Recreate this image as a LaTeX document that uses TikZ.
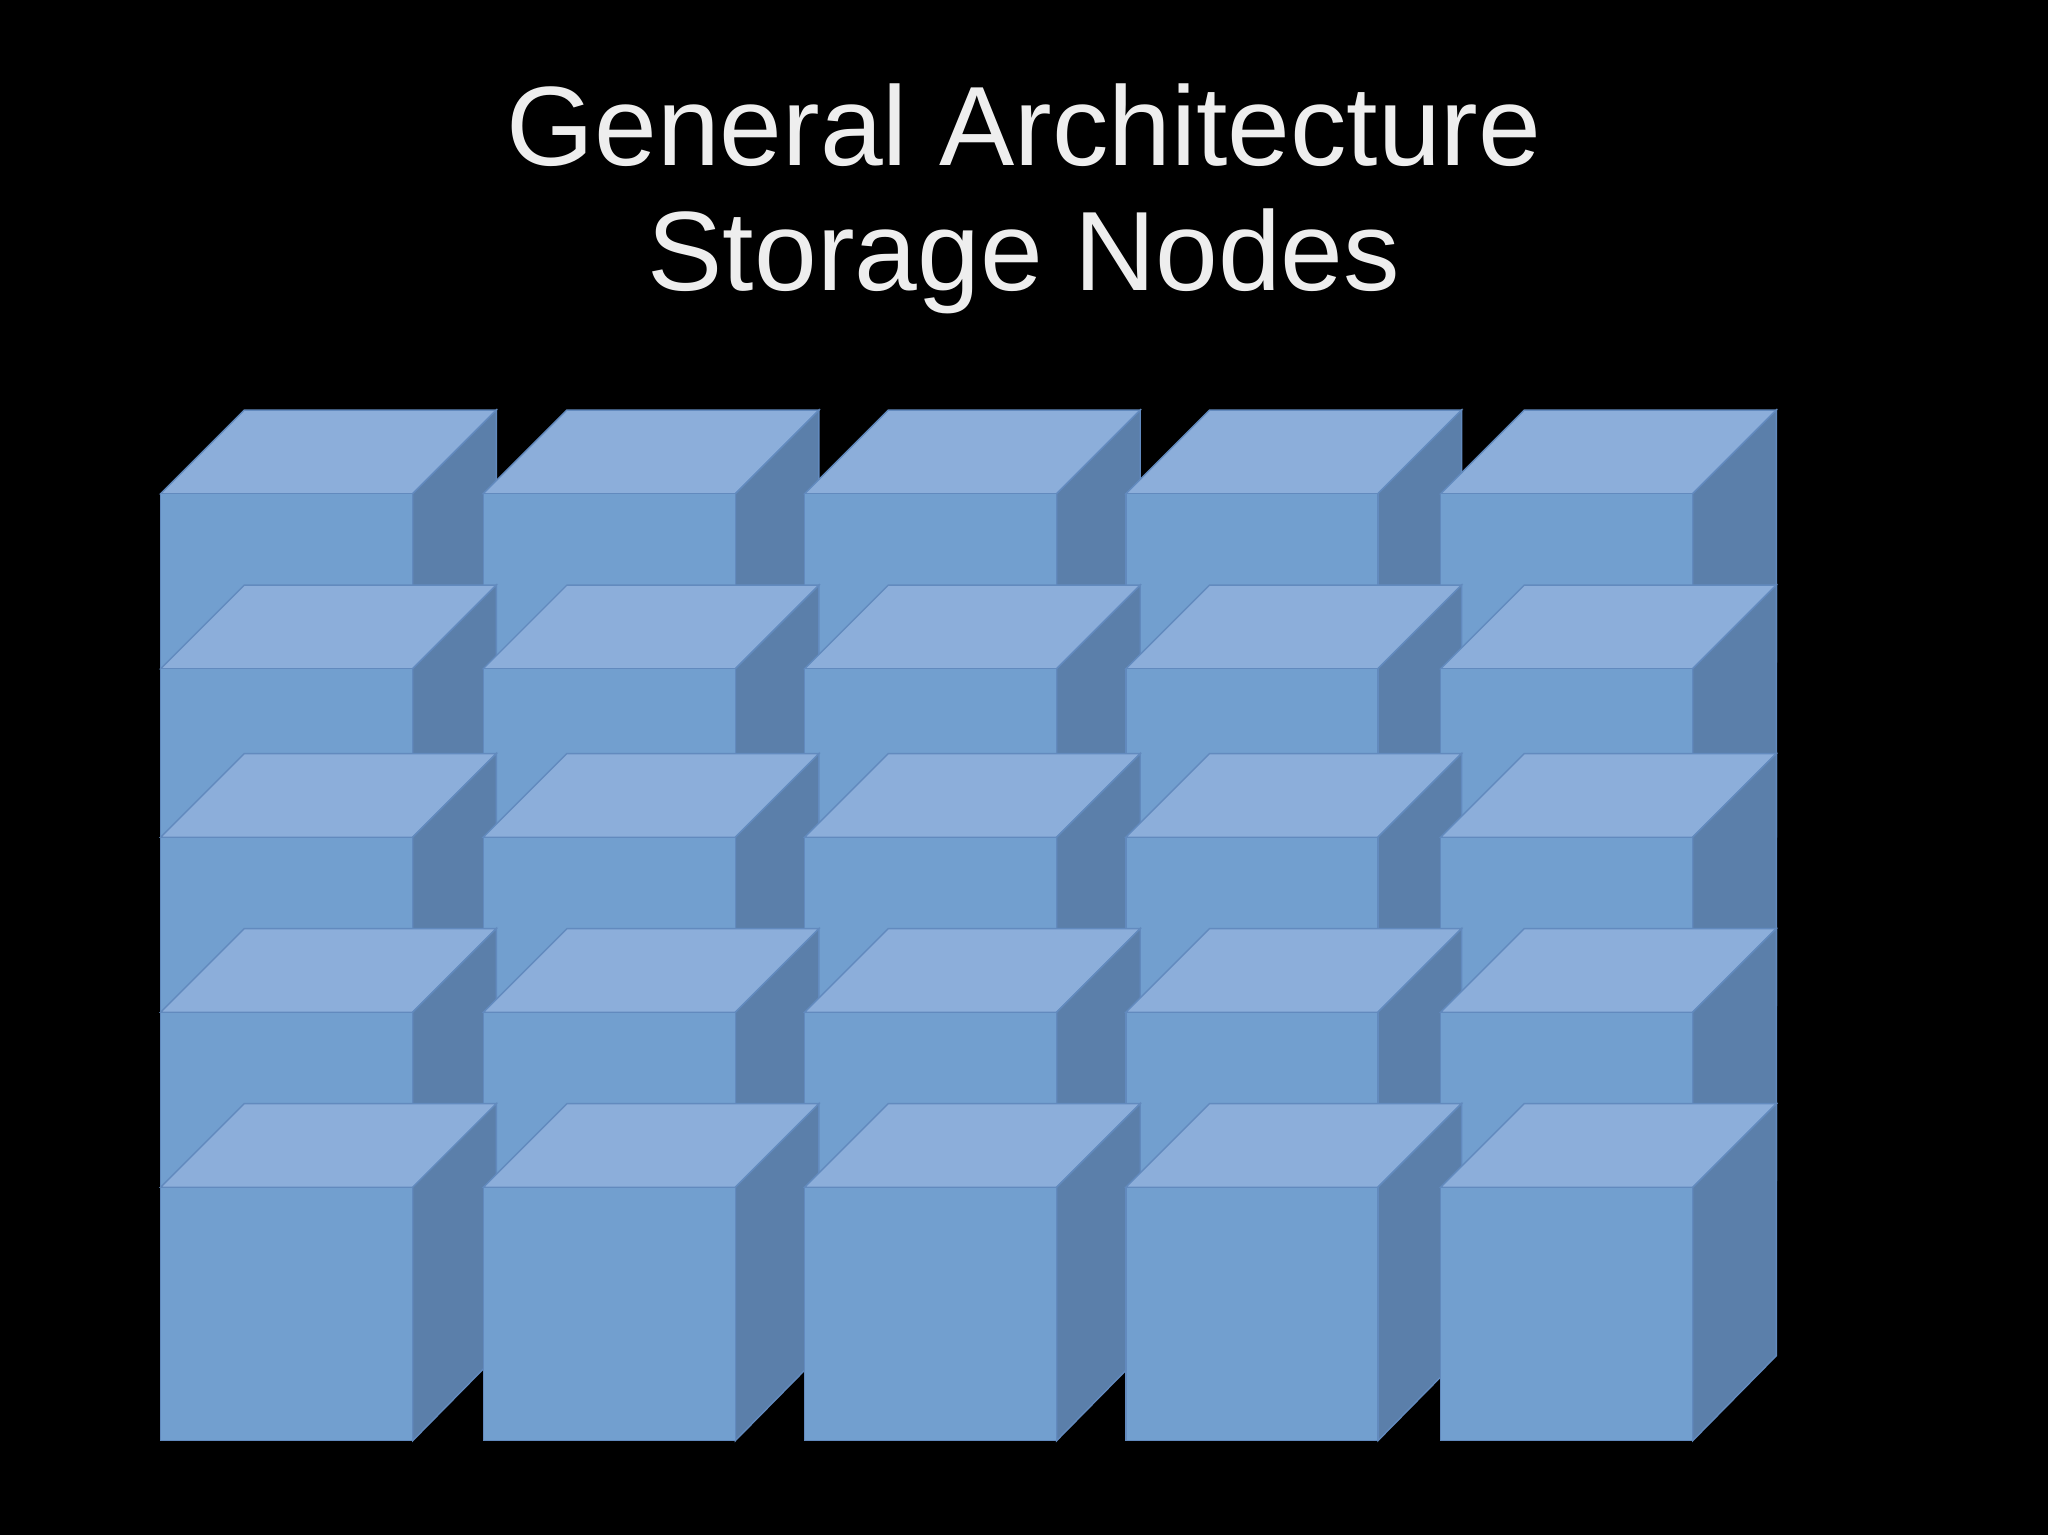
\documentclass[tikz,border=0pt]{standalone}
\usepackage{fontspec}
\setmainfont{Liberation Sans}
\definecolor{frontc}{RGB}{114,159,207}
\definecolor{topc}{RGB}{140,174,218}
\definecolor{sidec}{RGB}{91,127,170}
\definecolor{edgec}{RGB}{98,138,190}
\definecolor{titlec}{RGB}{238,238,238}
\tikzset{face/.style={draw=edgec,line width=0.4pt,line join=miter}}
\begin{document}
\begin{tikzpicture}[x=0.013061cm,y=-0.013061cm]
\fill[black] (0,0) rectangle (1568,1175);
\node[text=titlec,font=\fontsize{32.1}{35.6}\selectfont,align=center] (title) at (784,152) {General Architecture\\Storage Nodes};
\foreach \y in {378,512,641,775,909}{
  \foreach \x in {123,370,616,862,1103}{
    \fill[face,fill=topc] (\x,\y) -- (\x+64,\y-64) -- (\x+257,\y-64) -- (\x+193,\y) -- cycle;
    \fill[face,fill=sidec] (\x+193,\y) -- (\x+257,\y-64) -- (\x+257,\y+129) -- (\x+193,\y+194) -- cycle;
    \fill[face,fill=frontc] (\x,\y) rectangle (\x+193,\y+194);
  }
}
\end{tikzpicture}
\end{document}
